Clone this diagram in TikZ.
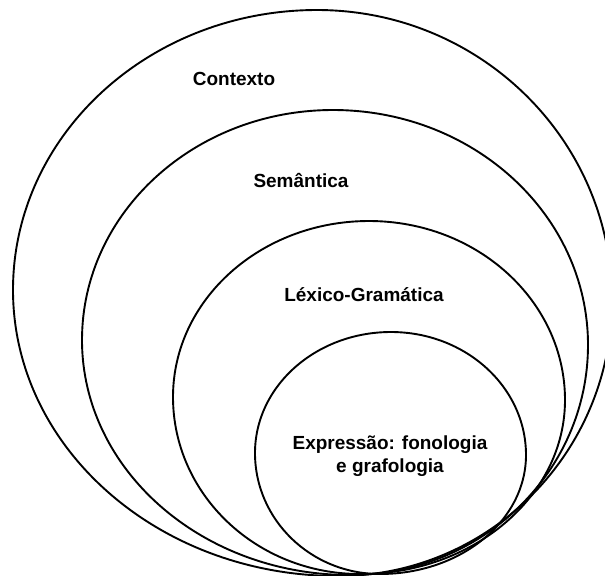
\documentclass[tikz,border=0pt]{standalone}
\usepackage{fontspec}
\setmainfont{Liberation Sans}
\tikzset{
  layer/.style={draw=black, line width=1.35pt},
  layername/.style={font=\bfseries\fontsize{13.5}{16}\selectfont, align=center, inner sep=0pt}
}
% one stratum as four quarter arcs: left x,y / top x,y / right x,y / bottom x,y
\newcommand{\stratum}[8]{%
  \draw [layer] (#1,#2)
    arc [start angle=180, end angle=270, x radius={#3-#1}, y radius={#2-#4}]
    arc [start angle=270, end angle=360, x radius={#5-#3}, y radius={#6-#4}]
    arc [start angle=0,   end angle=90,  x radius={#5-#7}, y radius={#8-#6}]
    arc [start angle=90,  end angle=180, x radius={#7-#1}, y radius={#8-#2}] -- cycle;}
\begin{document}
\begin{tikzpicture}[x=0.025cm, y=-0.025cm]
        \useasboundingbox (0,0) rectangle (605,575);

        % nested strata
        \stratum{13}{290}{317}{10}{612}{300}{338}{576}
        \stratum{82}{340}{333}{110}{588}{345}{350}{575}
        \stratum{173}{397}{369}{221}{565}{400}{360}{574}
        \stratum{255}{453}{391}{332}{526}{455}{380}{574}

        \node (ctx) [layername] at (234,79) {Contexto};
        \node (sem) [layername] at (301,180) {Semântica};
        \node (lex) [layername] at (364,295) {Léxico-Gramática};
        \node (exp) [layername] at (390,456) {Expressão: fonologia\\e grafologia};

    \end{tikzpicture}
\end{document}
